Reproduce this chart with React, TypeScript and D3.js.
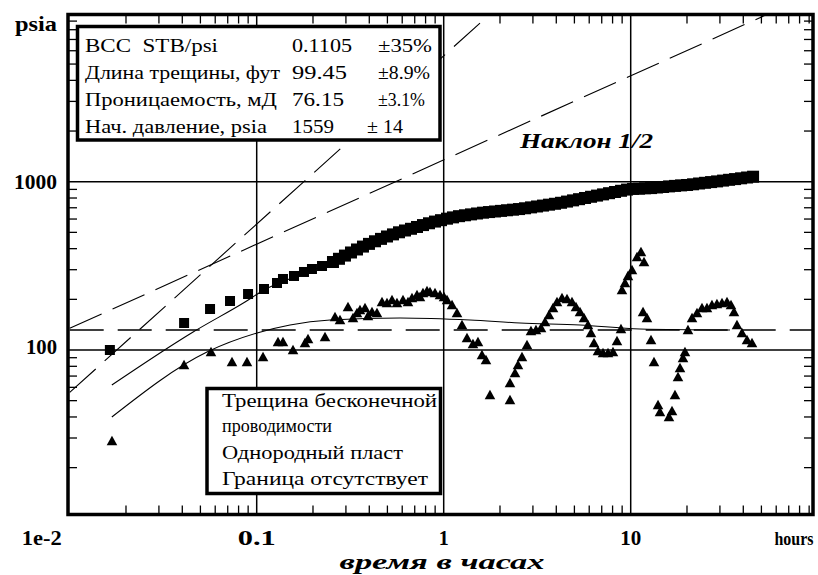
import React from 'react';
import * as d3 from 'd3';

const W = 818;
const H = 575;

// ---- tick labels / texts ----
const xTickLabels = ['1e-2', '0.1', '1', '10', 'hours'];
const yTickLabels = ['psia', '1000', '100'];
const xTitle = 'время в часах';
const slopeLabel = 'Наклон 1/2';

const paramNames = ['ВСС  STB/psi', 'Длина трещины, фут', 'Проницаемость, мД', 'Нач. давление, psia'];
const paramValues = ['0.1105', '99.45', '76.15', '1559'];
const paramErrors = ['±35%', '±8.9%', '±3.1%', '± 14'];
const modelLines = ['Трещина бесконечной', 'проводимости', 'Однородный пласт', 'Граница отсутствует'];

// ---- data: pressure change (squares) ----
const pressT = [
  0.0164, 0.0409, 0.0563, 0.0720, 0.0899, 0.1094, 0.1284, 0.1382, 0.1583, 0.1790, 0.1975, 0.2235,
  0.2558, 0.2754, 0.2965, 0.3193, 0.3438, 0.3701, 0.3985, 0.4291, 0.4620, 0.4974, 0.5356, 0.5767,
  0.6209, 0.6685, 0.7198, 0.7750, 0.8344, 0.8984, 0.9673, 1.0415, 1.1214, 1.2074, 1.3000, 1.3997,
  1.5071, 1.6227, 1.7471, 1.8811, 2.0254, 2.1807, 2.3480, 2.5281, 2.7219, 2.9307, 3.1554, 3.3974,
  3.6580, 3.9386, 4.2406, 4.5659, 4.9160, 5.2931, 5.6990, 6.1361, 6.6067, 7.1134, 7.6590, 8.2464,
  8.8789, 9.5598, 10.293, 11.083, 11.933, 12.848, 13.833, 14.894, 16.036, 17.266, 18.590, 20.016,
  21.551, 23.204, 24.984, 26.900, 28.963, 31.184, 33.576, 36.151, 38.924, 41.909, 45.123,
];
const pressP = [
  100, 144.7, 175.2, 195.5, 215.1, 230.4, 250.1, 264.2, 275.3, 290.8, 302.9, 315.6,
  333.3, 348.3, 363.9, 379.7, 395.6, 411.6, 427.1, 442.6, 457.4, 472.6, 486.3, 500.5,
  513.0, 525.1, 538.2, 552.4, 566.2, 579.5, 590.7, 603.0, 613.8, 624.0, 631.7, 639.5,
  647.4, 654.6, 660.0, 665.4, 670.9, 676.5, 682.0, 687.6, 695.2, 703.8, 712.5, 721.3,
  730.3, 739.3, 749.5, 761.9, 774.5, 787.3, 800.3, 813.6, 826.9, 840.6, 854.5, 868.6,
  883.0, 897.6, 906.3, 908.8, 913.8, 916.3, 923.8, 930.2, 937.9, 944.3, 950.8, 956.0,
  965.2, 975.8, 985.1, 994.5, 1004.1, 1015.2, 1026.3, 1036.2, 1047.6, 1059.1, 1070.8,
];

// ---- data: pressure derivative (triangles) ----
const derivT = [
  0.01683, 0.04087, 0.05696, 0.07377, 0.08872, 0.1081, 0.1300, 0.1382, 0.1564, 0.1812, 0.1881, 0.2319,
  0.2623, 0.2789, 0.3078, 0.3273, 0.3438, 0.3567, 0.3794, 0.3936, 0.4135, 0.4397, 0.4678, 0.4974,
  0.5290, 0.5625, 0.6058, 0.6442, 0.6767, 0.7197, 0.7467, 0.7748, 0.8140, 0.8446, 0.8983, 0.9555,
  1.004, 1.042, 1.108, 1.178, 1.253, 1.332, 1.434, 1.525, 1.602, 1.683, 1.768, 2.262,
  2.262, 2.406, 2.496, 2.622, 2.789, 2.929, 3.115, 3.314, 3.482, 3.657, 3.842, 4.036,
  4.292, 4.564, 4.853, 5.098, 5.356, 5.626, 5.910, 6.133, 6.363, 6.685, 7.111, 7.561,
  8.040, 8.446, 8.872, 8.982, 9.320, 9.670, 10.16, 10.81, 11.35, 11.78, 11.64, 12.22,
  12.84, 13.32, 14.00, 14.34, 16.02, 16.63, 17.25, 17.90, 18.35, 19.04, 19.51, 20.24,
  21.28, 22.62, 24.06, 25.58, 27.20, 28.92, 30.78, 32.73, 34.38, 35.67, 37.01, 39.36,
  41.87, 44.53,
];
const derivP = [
  28.8, 81.4, 97.3, 84.9, 84.9, 90.9, 111.6, 111.6, 100, 110.1, 116.2, 119.5,
  157.1, 150.8, 180.1, 155.0, 165.9, 172.9, 177.7, 159.2, 168.2, 165.9, 192.9, 190.3,
  198.2, 190.3, 198.2, 192.9, 203.7, 212.3, 206.5, 218.2, 224.2, 221.2, 218.2, 212.3,
  206.5, 198.2, 185.1, 165.9, 140.8, 117.8, 108.6, 111.6, 93.4, 87.2, 54.0, 50.5,
  63.7, 73.0, 81.4, 90.9, 107.1, 129.7, 131.5, 135.1, 146.7, 161.4, 177.7, 192.9,
  203.7, 201.0, 192.9, 180.1, 168.2, 155.0, 140.8, 126.2, 110.1, 98.6, 96.0, 96.0,
  97.3, 113.1, 133.3, 227.3, 250.1, 275.3, 298.8, 356.9, 382.3, 333.3, 168.2, 155.0,
  114.7, 84.9, 47.1, 42.8, 40.0, 43.4, 54.0, 69.1, 78.2, 89.6, 97.3, 131.5,
  155.0, 165.9, 177.7, 177.7, 185.1, 187.7, 190.3, 192.9, 185.1, 168.2, 140.8, 126.2,
  114.7, 110.1,
];

// ---- model curves ----
const modelPressT = [0.0168, 0.0457, 0.0866, 0.110, 0.160, 0.2558, 0.4974, 1.04, 2.18, 4.57, 10.3, 21.6, 45];
const modelPressP = [61.9, 127.9, 192.9, 228, 272, 333, 500, 603, 680, 780, 906, 965, 1070];
const modelDerivT = [0.0168, 0.0542, 0.1004, 0.1507, 0.2466, 0.5839, 1.3824, 2.5586, 5.3558, 11.198, 33.96];
const modelDerivP = [40.0, 97.3, 126.2, 140.8, 150.8, 155.0, 150.8, 144.7, 140.8, 133.3, 131.5];

// ---- straight reference lines ----
const radialT = [0.01, 100];
const radialP = [131.5, 131.5];
const halfSlopeT = [0.01, 55.2];
const halfSlopeP = [134.6, 10000];
const unitSlopeT = [0.01, 1.786];
const unitSlopeP = [56, 10000];

const zip = (a: number[], b: number[]) => a.map((v, i) => [v, b[i]] as [number, number]);

const SERIF = 'Liberation Serif';

export default function App() {
  const x = d3.scaleLog().domain([0.01, 100]).range([69.7, 817.7]);
  const y = d3.scaleLog().domain([10, 10000]).range([518.3, 13.4]);
  const L = 68, R = 813, T = 14.5, B = 514.5;

  const straight = d3.line<[number, number]>().x(d => x(d[0])).y(d => y(d[1]));
  const smooth = d3.line<[number, number]>().x(d => x(d[0])).y(d => y(d[1])).curve(d3.curveMonotoneX);

  const minorX: number[] = [];
  [0.01, 0.1, 1, 10].forEach(dec => {
    for (let k = 2; k <= 9; k++) {
      const v = k * dec;
      if (x(v) < R - 2) minorX.push(v);
    }
  });
  const minorY: number[] = [];
  [10, 100, 1000].forEach(dec => {
    for (let k = 2; k <= 9; k++) minorY.push(k * dec);
  });
  const gridX = [0.1, 1, 10];
  const gridY = [100, 1000];
  const tick = 9;

  const tri = 'M0,-5.2L5.3,4.2L-5.3,4.2Z';

  const nameWidths = [133, 195, 192, 182];
  const valWidths = [60, 55, 52, 42];
  const errWidths = [54, 52, 47, 36];
  const errX = [378, 378, 378, 367];
  const rowBase = [52, 78.5, 105.5, 132.5];
  const modelWidths = [215, 110, 181, 206];
  const modelBase = [406.5, 432, 458.5, 485];

  const xLabelPos = [x(0.01) - 28, x(0.1), x(1), x(10), 794];
  const xLabelW = [40, 38, 10, 21, 39];
  const yLabelBase = [31, y(1000) + 7.5, y(100) + 4];
  const yLabelW = [42, 43, 31];

  const txt = (extra: React.CSSProperties = {}): React.CSSProperties => ({ fontFamily: SERIF, whiteSpace: 'pre', ...extra });

  return (
    <svg width={W} height={H} style={{ position: 'absolute', left: 0, top: 0, display: 'block' }}
      xmlns="http://www.w3.org/2000/svg">
      <defs>
        <clipPath id="plotClip">
          <rect x={L} y={T} width={R - L} height={B - T} />
        </clipPath>
      </defs>
      <rect x={0} y={0} width={W} height={H} fill="#fff" />

      {/* grid */}
      {gridX.map(v => (
        <line key={'gx' + v} x1={x(v)} x2={x(v)} y1={T} y2={B} stroke="#000" strokeWidth={1.5} />
      ))}
      {gridY.map(v => (
        <line key={'gy' + v} x1={L} x2={R} y1={y(v)} y2={y(v)} stroke="#000" strokeWidth={1.5} />
      ))}

      {/* ticks */}
      {minorX.map(v => (
        <g key={'tx' + v}>
          <line x1={x(v)} x2={x(v)} y1={B} y2={B - tick} stroke="#000" strokeWidth={1.3} />
          <line x1={x(v)} x2={x(v)} y1={T} y2={T + tick} stroke="#000" strokeWidth={1.3} />
        </g>
      ))}
      {minorY.map(v => (
        <g key={'ty' + v}>
          <line x1={L} x2={L + tick} y1={y(v)} y2={y(v)} stroke="#000" strokeWidth={1.3} />
          <line x1={R} x2={R - tick} y1={y(v)} y2={y(v)} stroke="#000" strokeWidth={1.3} />
        </g>
      ))}

      <g clipPath="url(#plotClip)">
        <path d={straight(zip(radialT, radialP)) || ''} fill="none" stroke="#000" strokeWidth={1.4} strokeDasharray="34 14" />
        <path d={straight(zip(halfSlopeT, halfSlopeP)) || ''} fill="none" stroke="#000" strokeWidth={1.1} strokeDasharray="35 12" />
        <path d={straight(zip(unitSlopeT, unitSlopeP)) || ''} fill="none" stroke="#000" strokeWidth={1.1} strokeDasharray="35 12" />
        <path d={smooth(zip(modelPressT, modelPressP)) || ''} fill="none" stroke="#000" strokeWidth={1.1} />
        <path d={smooth(zip(modelDerivT, modelDerivP)) || ''} fill="none" stroke="#000" strokeWidth={1.1} />

        {zip(pressT, pressP).map((d, i) => {
          const s = i < 12 ? 10 : 12;
          return <rect key={'s' + i} x={x(d[0]) - s / 2} y={y(d[1]) - s / 2} width={s} height={s} fill="#000" />;
        })}
        {zip(derivT, derivP).map((d, i) => (
          <path key={'t' + i} d={tri} transform={`translate(${x(d[0])},${y(d[1])})`} fill="#000" />
        ))}
      </g>

      {/* parameter box */}
      <rect x={77.5} y={26.5} width={362.5} height={113.5} fill="#fff" stroke="#000" strokeWidth={3.5} />
      {paramNames.map((s, i) => (
        <g key={'pr' + i} fill="#000">
          <text x={85} y={rowBase[i]} fontSize={19} style={txt()} textLength={nameWidths[i]} lengthAdjust="spacingAndGlyphs">{s}</text>
          <text x={292} y={rowBase[i]} fontSize={19} style={txt()} textLength={valWidths[i]} lengthAdjust="spacingAndGlyphs">{paramValues[i]}</text>
          <text x={errX[i]} y={rowBase[i]} fontSize={19} style={txt()} textLength={errWidths[i]} lengthAdjust="spacingAndGlyphs">{paramErrors[i]}</text>
        </g>
      ))}

      {/* model box */}
      <rect x={207} y={388.5} width={233.5} height={105} fill="#fff" stroke="#000" strokeWidth={3.5} />
      {modelLines.map((s, i) => (
        <text key={'ml' + i} x={222} y={modelBase[i]} fontSize={18.5} style={txt()} textLength={modelWidths[i]} lengthAdjust="spacingAndGlyphs">{s}</text>
      ))}

      {/* slope label */}
      <text x={520} y={148} fontSize={22} style={txt({ fontWeight: 'bold', fontStyle: 'italic' })} textLength={133} lengthAdjust="spacingAndGlyphs">{slopeLabel}</text>

      {/* frame */}
      <rect x={L} y={T} width={R - L} height={B - T} fill="none" stroke="#000" strokeWidth={3.5} />

      {/* axis labels */}
      {xTickLabels.map((s, i) => (
        <text key={'xl' + i} x={xLabelPos[i]} y={545} textAnchor="middle" fontSize={i === 4 ? 18 : 21} style={txt({ fontWeight: 'bold' })}
          textLength={xLabelW[i]} lengthAdjust="spacingAndGlyphs">{s}</text>
      ))}
      {yTickLabels.map((s, i) => (
        <text key={'yl' + i} x={57 - yLabelW[i]} y={yLabelBase[i]} fontSize={21} style={txt({ fontWeight: 'bold' })}
          textLength={yLabelW[i]} lengthAdjust="spacingAndGlyphs">{s}</text>
      ))}
      <text x={442} y={569} textAnchor="middle" fontSize={21} style={txt({ fontWeight: 'bold', fontStyle: 'italic' })}
        textLength={205} lengthAdjust="spacingAndGlyphs">{xTitle}</text>
    </svg>
  );
}
